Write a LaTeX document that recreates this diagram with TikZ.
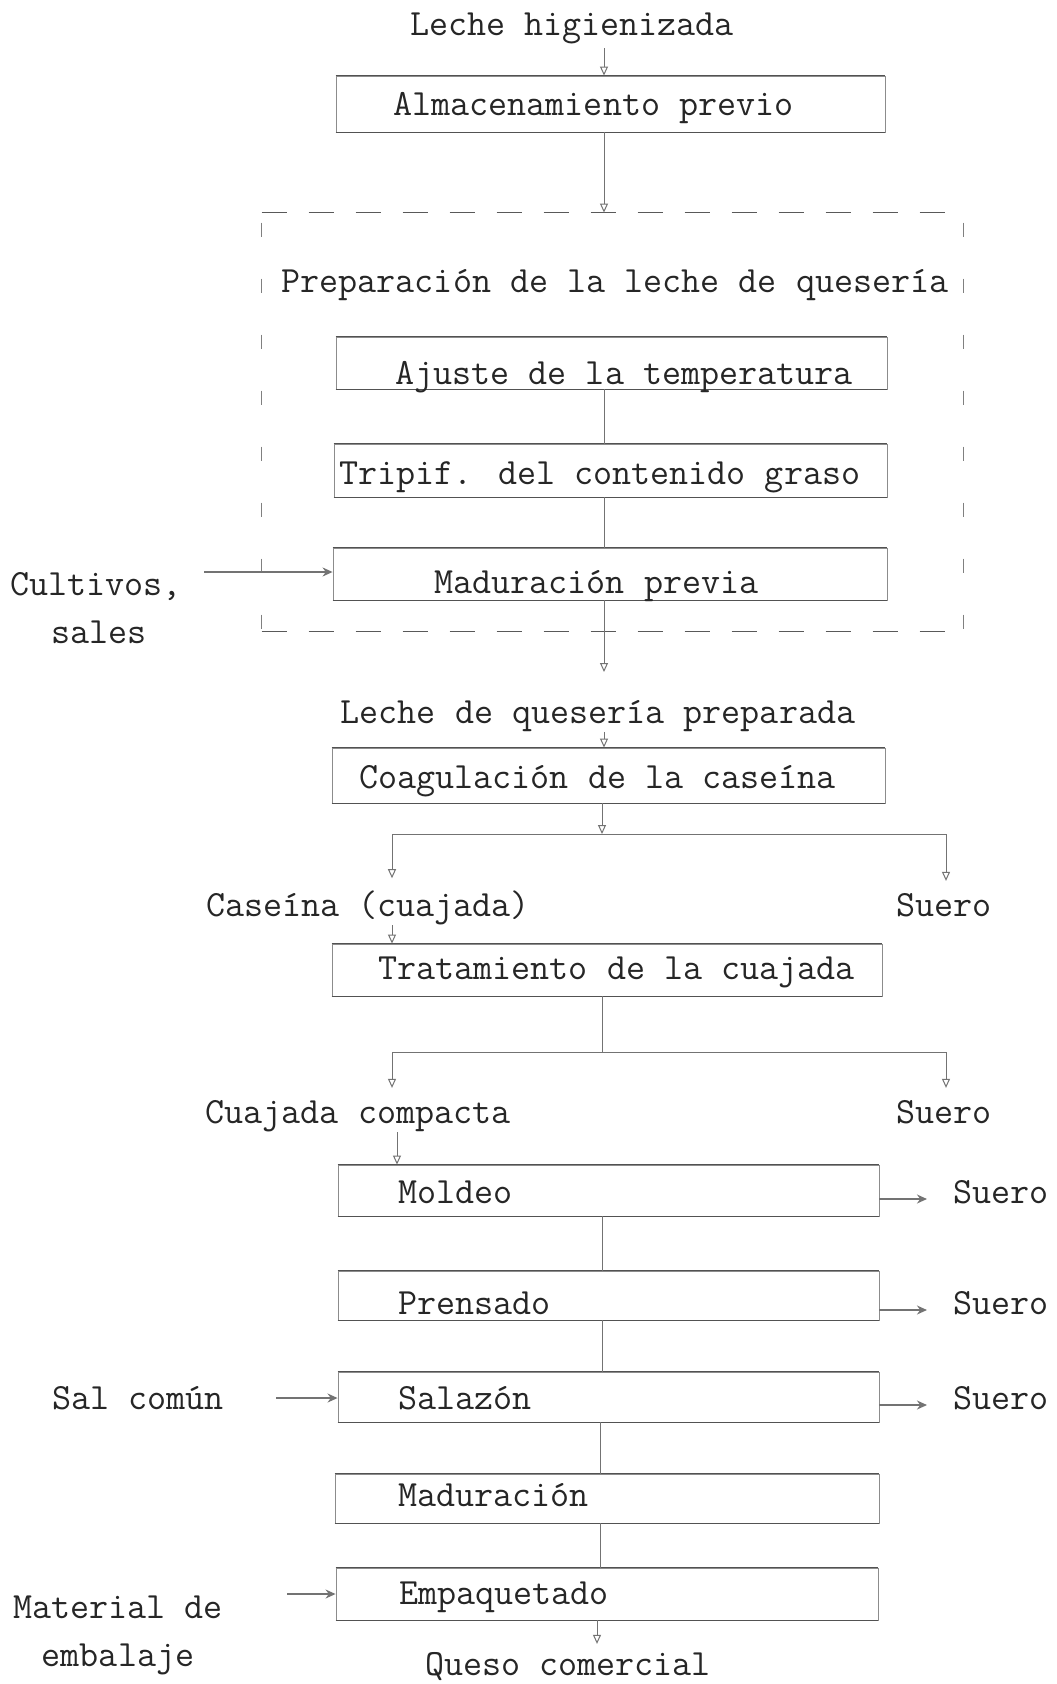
\documentclass[tikz,border=0pt]{standalone}
\usepackage{fontspec}
\usetikzlibrary{arrows.meta,fit,calc}
\begin{document}
\begin{tikzpicture}[x=0.5pt,y=-0.5pt,
  txt/.style={font=\ttfamily\fontsize{18.5}{22}\selectfont, inner sep=0pt, text=black!85, anchor=mid, yshift=-3.5pt},
  btxt/.style={txt, anchor=mid west},
  box/.style={draw=black!45, line width=0.45pt, inner sep=0pt},
  boxtb/.style={draw=black!68, line width=0.65pt},
  conn/.style={draw=black!55, line width=0.45pt},
  arr/.style={conn, -{Triangle[open,length=4.5pt,width=4pt,line width=0.5pt]}},
  harr/.style={conn, line width=0.6pt, -{Stealth[length=5pt,width=4.5pt]}},
  dashh/.style={draw=black!65, line width=0.6pt, dash pattern=on 12.5pt off 11pt},
  dashv/.style={draw=black!50, line width=0.5pt, dash pattern=on 7pt off 21pt, dash phase=-5pt},
]
\useasboundingbox[fill=white] (0,0) rectangle (1056,1684);

% spine coordinates
\coordinate (sp) at (604,0);
\coordinate (sq) at (602,0);
\coordinate (sr) at (600,0);
\coordinate (so) at (597,0);
\coordinate (kl) at (392,0);
\coordinate (kr) at (946,0);
\coordinate (km) at (397,0);

% boxes
\node[box, fit={(336,76) (885,132)}] (alm) {};
\node[fit={(262,213) (963,631)}, inner sep=0pt] (prep) {};
\node[box, fit={(336,337) (887,389)}] (ajuste) {};
\node[box, fit={(334,444) (887,497)}] (tripif) {};
\node[box, fit={(333,548) (887,600)}] (madprev) {};
\node[box, fit={(332,748) (885,803)}] (coag) {};
\node[box, fit={(332,944) (882,996)}] (trat) {};
\node[box, fit={(338,1165) (879,1216)}] (moldeo) {};
\node[box, fit={(338,1271) (879,1320)}] (prens) {};
\node[box, fit={(338,1372) (879,1422)}] (salaz) {};
\node[box, fit={(335,1474) (879,1523)}] (madur) {};
\node[box, fit={(336,1568) (878,1620)}] (empaq) {};
\foreach \b in {alm,ajuste,tripif,madprev,coag,trat,moldeo,prens,salaz,madur,empaq}{
  \draw[boxtb] (\b.north west) -- (\b.north east) (\b.south west) -- (\b.south east);
}

% dashed frame
\draw[dashh] (prep.north west) -- (prep.north east);
\draw[dashh] (prep.south west) -- (prep.south east);
\draw[dashv] (prep.north west) -- (prep.south west);
\draw[dashv] (prep.north east) -- (prep.south east);

% texts in boxes
\node[btxt] (talm) at (393,104) {Almacenamiento previo};
\node[btxt] (tajuste) at (395,373) {Ajuste de la temperatura};
\node[btxt] (ttripif) at (339,473) {Tripif. del contenido graso};
\node[btxt] (tmadprev) at (434,582) {Maduración previa};
\node[btxt] (tcoag) at (359,777) {Coagulación de la caseína};
\node[btxt] (ttrat) at (378,968) {Tratamiento de la cuajada};
\node[btxt] (tmoldeo) at (398,1192) {Moldeo};
\node[btxt] (tprens) at (398,1303) {Prensado};
\node[btxt] (tsalaz) at (398,1398) {Salazón};
\node[btxt] (tmadur) at (398,1495) {Maduración};
\node[btxt] (tempaq) at (399,1593) {Empaquetado};

% free texts
\node[txt] (lh) at (572,24) {Leche higienizada};
\node[txt] (prept) at (615,281) {Preparación de la leche de quesería};
\node[txt] (cult) at (96,584) {Cultivos,};
\node[txt] (sales) at (99,632) {sales};
\node[txt] (lqp) at (598,712) {Leche de quesería preparada};
\node[txt] (cas) at (368,905) {Caseína (cuajada)};
\node[txt] (su1) at (944,905) {Suero};
\node[txt] (cc) at (358,1112) {Cuajada compacta};
\node[txt] (su2) at (944,1112) {Suero};
\node[txt] (s3) at (1001,1192) {Suero};
\node[txt] (s4) at (1001,1303) {Suero};
\node[txt] (s5) at (1001,1398) {Suero};
\node[txt] (sal) at (138,1398) {Sal común};
\node[txt] (mat) at (118,1607) {Material de};
\node[txt] (emb) at (118,1655) {embalaje};
\node[txt] (queso) at (568,1664) {Queso comercial};

% main flow
\draw[arr] ($(lh.south -| sp)+(0,4)$) -- (alm.north -| sp);
\draw[arr] (alm.south -| sp) -- (prep.north -| sp);
\draw[conn] (ajuste.south -| sp) -- (tripif.north -| sp);
\draw[conn] (tripif.south -| sp) -- (madprev.north -| sp);
\coordinate (lqpin) at (604,672);
\draw[arr] (madprev.south -| sp) -- (lqpin);
\draw[arr] (lqp.south -| sp) -- (coag.north -| sp);

% first split
\coordinate (j1) at (602,834);
\draw[arr] (coag.south -| j1) -- (j1);
\draw[conn] (j1 -| kl) -- (j1 -| kr);
\draw[arr, shorten >=6pt] (j1 -| kl) -- (cas.north -| kl);
\draw[arr, shorten >=6pt] (j1 -| kr) -- (su1.north -| kr);
\draw[arr] (cas.south -| kl) -- (trat.north -| kl);

% second split
\coordinate (j2) at (602,1052);
\draw[conn] (trat.south -| j2) -- (j2);
\draw[conn] (j2 -| kl) -- (j2 -| kr);
\draw[arr, shorten >=6pt] (j2 -| kl) -- (cc.north -| kl);
\draw[arr, shorten >=6pt] (j2 -| kr) -- (su2.north -| kr);
\draw[arr] (cc.south -| km) -- (moldeo.north -| km);

% lower chain
\draw[conn] (moldeo.south -| sq) -- (prens.north -| sq);
\draw[conn] (prens.south -| sq) -- (salaz.north -| sq);
\draw[conn] (salaz.south -| sr) -- (madur.north -| sr);
\draw[conn] (madur.south -| sr) -- (empaq.north -| sr);
\draw[arr, shorten >=4pt] (empaq.south -| so) -- (queso.north -| so);

% side inputs
\coordinate (cin) at (204,572);
\draw[harr] (cin) -- (cin -| madprev.west);
\draw[harr, shorten <=26pt] (sal.east) -- (salaz.west |- sal.east);
\coordinate (min) at (287,1594);
\draw[harr] (min) -- (min -| empaq.west);

% side outputs
\draw[harr, shorten >=13pt] (moldeo.east |- s3.mid west) -- (s3.mid west);
\draw[harr, shorten >=13pt] (prens.east |- s4.mid west) -- (s4.mid west);
\draw[harr, shorten >=13pt] (salaz.east |- s5.mid west) -- (s5.mid west);
\end{tikzpicture}
\end{document}
